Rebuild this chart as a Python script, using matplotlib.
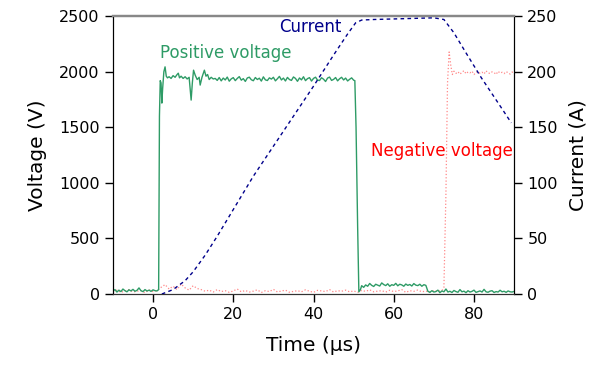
import numpy as np
import matplotlib
matplotlib.use("Agg")
import matplotlib.pyplot as plt

# ---------------- data ----------------
# Positive voltage (V): irregular samples in the transition regions, uniform segments elsewhere
pos_base_start, pos_base_step = -10.0, 0.5
pos_base_v = [25, 40, 18, 35, 22, 45, 30, 20, 38, 28, 42, 25, 33, 55, 30, 22, 40, 27, 35, 24, 38, 30, 28]

pos_rise_t = [1.4, 1.6, 1.8, 2.0, 2.2, 2.4, 2.7, 3.0, 3.3, 3.6, 4.0, 4.5, 5.0, 5.5, 6.0, 6.3, 6.6,
              7.0, 7.5, 8.0, 8.5, 9.0, 9.5, 9.8, 10.1, 10.5, 11.0, 11.5, 11.75, 12.2, 12.8, 13.2,
              13.6, 14.0, 14.5, 15.0]
pos_rise_v = [40, 1600, 1920, 1900, 1718, 1850, 2000, 2044, 1960, 1945, 1955, 1940, 1965, 1950, 1975,
              1987, 1945, 1960, 1940, 1955, 1935, 1950, 1745, 1900, 2014, 1970, 1930, 1950, 1880, 1950,
              2014, 1960, 1975, 1930, 1950, 1935]

pos_flat_start, pos_flat_step = 15.5, 0.5
pos_flat_v = [1940, 1922, 1948, 1918, 1943, 1926, 1952, 1915, 1936, 1947,
              1920, 1940, 1956, 1924, 1938, 1913, 1944, 1951, 1928, 1919,
              1948, 1930, 1942, 1916, 1954, 1927, 1921, 1945, 1934, 1950,
              1918, 1937, 1958, 1926, 1943, 1917, 1949, 1930, 1922, 1953,
              1940, 1914, 1944, 1927, 1955, 1920, 1938, 1947, 1916, 1940,
              1951, 1925, 1921, 1946, 1933, 1912, 1943, 1952, 1922, 1931,
              1948, 1918, 1937, 1950, 1926, 1943, 1917, 1932, 1945, 1924]

pos_fall_t = [50.3, 50.6, 51.0, 51.3, 51.7]
pos_fall_v = [1920, 1500, 600, 20, 40]

pos_mid_start, pos_mid_step = 52.0, 0.5
pos_mid_v = [75, 60, 82, 70, 95, 78, 68, 88, 80, 72, 100, 85, 76, 92, 70, 84, 78, 96, 74, 88,
             82, 70, 90, 78, 86, 72, 94, 80, 76, 88, 70, 84, 78]

pos_tail_start, pos_tail_step = 68.5, 0.5
pos_tail_v = [25, 15, 30, 18, 22, 35, 12, 28, 20, 45, 18, 25, 14, 32, 22, 16, 40, 20, 26, 12,
              30, 18, 24, 35, 15, 22, 28, 18, 42, 20, 16, 26, 30, 14, 22, 18, 34, 20, 25, 15,
              28, 20, 18, 24]

# Negative voltage (V, shown as magnitude)
neg_base_start, neg_base_step = -10.0, 1.0
neg_base_v = [20, 35, 15, 28, 40, 18, 25, 30, 12, 38, 22, 30,
              60, 85, 45, 70, 40, 90, 55, 35, 75, 50, 40,
              25, 35, 18, 40, 22, 30, 15, 28, 45, 20, 32, 18, 26, 38, 14, 30, 22, 42, 19, 27,
              35, 16, 24, 30, 20, 38, 25, 15, 33, 28, 22, 40, 18, 30, 25, 35, 20, 28, 16, 32,
              24, 38, 20, 26, 30, 18, 34, 22, 28, 40, 15, 30, 24, 36, 20, 27, 18, 32, 25, 30]
neg_rise_t = [72.5, 73.0, 73.4, 73.8, 74.2, 74.6, 75.0]
neg_rise_v = [60, 900, 1900, 2178, 2060, 1975, 2005]
neg_flat_start, neg_flat_step = 75.5, 0.5
neg_flat_v = [1985, 2000, 1978, 1995, 2010, 1982, 1998, 1990, 2005, 1975, 1992, 2002, 1986, 1996, 1980,
              2008, 1990, 1984, 1999, 1993, 1976, 2004, 1988, 1995, 1983, 2001, 1991, 1979, 1997, 1989]

# Current (A)
cur_t = [2.2, 5, 8, 10, 13, 16, 20, 25, 30, 35, 40, 45, 48.5, 50.5, 52, 55, 60, 65, 70, 72.5,
         75, 78, 81.75, 86, 89.3]
cur_a = [0, 4, 12, 20, 35, 52, 76, 106, 133, 160, 187, 215, 234, 244, 246.5, 247, 247.5, 248,
         248.5, 247, 235, 217, 195, 172, 154]

x_ticks = [0, 20, 40, 60, 80]
v_ticks = [0, 500, 1000, 1500, 2000, 2500]
a_ticks = [0, 50, 100, 150, 200, 250]


def seg(start, step, vals):
    return start + step * np.arange(len(vals))


pos_t = np.concatenate([seg(pos_base_start, pos_base_step, pos_base_v), pos_rise_t,
                        seg(pos_flat_start, pos_flat_step, pos_flat_v), pos_fall_t,
                        seg(pos_mid_start, pos_mid_step, pos_mid_v),
                        seg(pos_tail_start, pos_tail_step, pos_tail_v)])
pos_v = np.concatenate([pos_base_v, pos_rise_v, pos_flat_v, pos_fall_v, pos_mid_v, pos_tail_v])

neg_t = np.concatenate([seg(neg_base_start, neg_base_step, neg_base_v), neg_rise_t,
                        seg(neg_flat_start, neg_flat_step, neg_flat_v)])
neg_v = np.concatenate([neg_base_v, neg_rise_v, neg_flat_v])

# ---------------- plot ----------------
plt.rcParams['font.family'] = ['DejaVu Sans']
fig = plt.figure(figsize=(6.07, 3.76), dpi=100)
ax = fig.add_axes([0.186, 0.218, 0.661, 0.739])
ax2 = ax.twinx()

green = '#2e9b66'
ax.plot(neg_t, neg_v, color='#ff6060', lw=0.9, ls=':', alpha=0.75, zorder=2)
ax.plot(pos_t, pos_v, color=green, lw=1.0, zorder=3)
ax2.plot(cur_t, cur_a, color='#00008b', lw=1.0, ls=(0, (2.6, 2.4)))

ax.set_xlim(-10, 90)
ax.set_ylim(0, 2500)
ax2.set_ylim(0, 250)
ax.set_xticks(x_ticks)
ax.set_yticks(v_ticks)
ax2.set_yticks(a_ticks)

for a in (ax, ax2):
    a.tick_params(labelsize=11.5, length=6, width=1)
    a.spines['top'].set_color('#888888')
    a.spines['top'].set_linewidth(1.6)
    a.spines['bottom'].set_color('#333333')

ax.set_xlabel('Time (µs)', fontsize=14.5, labelpad=10)
ax.set_ylabel('Voltage (V)', fontsize=14.5, labelpad=9)
ax2.set_ylabel('Current (A)', fontsize=14.5, labelpad=8)

ax.text(31.5, 2400, 'Current', color='#00008b', fontsize=12, ha='left', va='center')
ax.text(1.75, 2165, 'Positive voltage', color=green, fontsize=12, ha='left', va='center')
ax.text(54.25, 1290, 'Negative voltage', color='red', fontsize=12, ha='left', va='center')

fig.savefig('out.png', dpi=100)
